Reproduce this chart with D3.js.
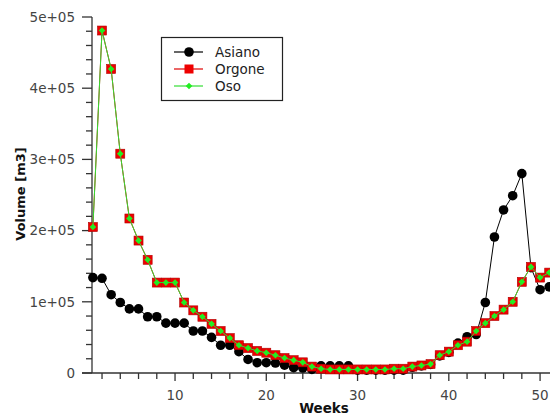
<!DOCTYPE html>
<html><head><meta charset="utf-8">
<script src="https://cdn.jsdelivr.net/npm/d3@7"></script>
<style>body{margin:0;background:#fff}svg{display:block}</style>
</head><body>
<svg id="chart" width="550" height="418"></svg>
<script>
const weeks = d3.range(1, 52);
const asiano = [134000,133000,110000,99000,90000,90000,79000,79000,70000,70000,
  70000,59000,59000,50000,39000,39000,30000,19000,14500,14500,
  14000,11000,7500,7000,5000,10000,10000,10000,10000,4000,
  4000,4000,4000,4000,4000,8000,10000,12000,24000,29000,
  42000,51000,54000,99000,191000,229000,249000,280000,148000,117000,121000];
const orgone = [205000,481000,427000,308000,217000,186000,159000,127000,127000,127000,
  99000,88000,79000,69000,59000,49000,39000,35000,31000,28500,
  25000,21000,18000,15000,9000,6000,5000,5000,5000,5000,
  5000,5000,5000,6000,6000,9000,10600,12500,25000,30000,
  39000,44000,59000,70000,80000,89000,100000,128000,149000,134000,141000];
const oso = orgone.slice();
const seriesNames = ["Asiano","Orgone","Oso"];
const yTicks = [0,100000,200000,300000,400000,500000];
const yTickLabels = ["0","1e+05","2e+05","3e+05","4e+05","5e+05"];
const xTicks = [10,20,30,40,50];

const svg = d3.select("#chart");
const x = d3.scaleLinear().domain([1,51]).range([92.9,549.2]);
const y = d3.scaleLinear().domain([0,500000]).range([373,17]);
const axisColor = "#333";
const font = "DejaVu Sans, sans-serif";

// Y axis
const yAxis = svg.append("g");
yAxis.append("line").attr("x1",92).attr("x2",92).attr("y1",y(500000)).attr("y2",y(0)).attr("stroke",axisColor).attr("stroke-width",1.3);
d3.range(0,500001,20000).forEach(v=>{
  const major = v % 100000 === 0;
  yAxis.append("line").attr("x1",major?82:86).attr("x2",92).attr("y1",y(v)).attr("y2",y(v)).attr("stroke",axisColor).attr("stroke-width",1.3);
});
yAxis.selectAll("text.yl").data(yTicks).enter().append("text")
  .attr("x",75).attr("y",d=>y(d)).attr("dy","0.36em").attr("text-anchor","end")
  .attr("font-family",font).attr("font-size",13.5).attr("fill","#444")
  .text((d,i)=>yTickLabels[i]);

// X axis
const xAxis = svg.append("g");
xAxis.append("line").attr("x1",82).attr("x2",550).attr("y1",373).attr("y2",373).attr("stroke",axisColor).attr("stroke-width",1.3);
d3.range(2,52,2).forEach(w=>{
  const major = w % 10 === 0;
  xAxis.append("line").attr("x1",x(w)).attr("x2",x(w)).attr("y1",373).attr("y2",major?381:379).attr("stroke",axisColor).attr("stroke-width",1.3);
});
xAxis.selectAll("text.xl").data(xTicks).enter().append("text")
  .attr("x",d=>x(d)).attr("y",395).attr("dy","0.36em").attr("text-anchor","middle")
  .attr("font-family",font).attr("font-size",13.5).attr("fill","#444").text(d=>d);

// Titles
svg.append("text").attr("x",324).attr("y",408).attr("dy","0.36em").attr("text-anchor","middle")
  .attr("font-family",font).attr("font-size",13.5).attr("font-weight","bold").attr("fill","#111").text("Weeks");
svg.append("text").attr("transform","translate(20,194) rotate(-90)").attr("dy","0.36em").attr("text-anchor","middle")
  .attr("font-family",font).attr("font-size",13).attr("font-weight","bold").attr("fill","#111").text("Volume [m3]");

const line = d3.line().x((d,i)=>x(weeks[i])).y(d=>y(d));
const plot = svg.append("g");

// Asiano
plot.append("path").datum(asiano).attr("d",line).attr("fill","none").attr("stroke","#000").attr("stroke-width",1);
plot.selectAll("circle.as").data(asiano).enter().append("circle")
  .attr("cx",(d,i)=>x(weeks[i])).attr("cy",d=>y(d)).attr("r",4.8).attr("fill","#000");
// Orgone
plot.append("path").datum(orgone).attr("d",line).attr("fill","none").attr("stroke","#dd0000").attr("stroke-width",1);
plot.selectAll("rect.or").data(orgone).enter().append("rect")
  .attr("x",(d,i)=>x(weeks[i])-4.5).attr("y",d=>y(d)-4.5).attr("width",9).attr("height",9)
  .attr("fill","#ee0000").attr("stroke","#b00000").attr("stroke-width",0.6);
// Oso
plot.append("path").datum(oso).attr("d",line).attr("fill","none").attr("stroke","#33dd33").attr("stroke-width",1);
plot.selectAll("path.os").data(oso).enter().append("path")
  .attr("d",d3.symbol().type(d3.symbolDiamond2).size(28))
  .attr("transform",(d,i)=>`translate(${x(weeks[i])},${y(d)})`).attr("fill","#22ee22");

// Legend
const lg = svg.append("g");
lg.append("rect").attr("x",161.5).attr("y",37.5).attr("width",121).attr("height",63)
  .attr("fill","#fff").attr("stroke","#222").attr("stroke-width",1.2);
const lgY = [52,69,86];
const lgColors = ["#000","#dd0000","#33dd33"];
seriesNames.forEach((n,i)=>{
  lg.append("line").attr("x1",174).attr("x2",203).attr("y1",lgY[i]).attr("y2",lgY[i]).attr("stroke",lgColors[i]).attr("stroke-width",1.2);
  if(i===0) lg.append("circle").attr("cx",189).attr("cy",lgY[i]).attr("r",4.8).attr("fill","#000");
  if(i===1) lg.append("rect").attr("x",184.5).attr("y",lgY[i]-4.5).attr("width",9).attr("height",9).attr("fill","#ee0000");
  if(i===2) lg.append("path").attr("d",d3.symbol().type(d3.symbolDiamond2).size(28)).attr("transform",`translate(189,${lgY[i]})`).attr("fill","#22ee22");
  lg.append("text").attr("x",215).attr("y",lgY[i]).attr("dy","0.36em").attr("font-family",font).attr("font-size",13.5).attr("fill","#222").text(n);
});
</script>
</body></html>
